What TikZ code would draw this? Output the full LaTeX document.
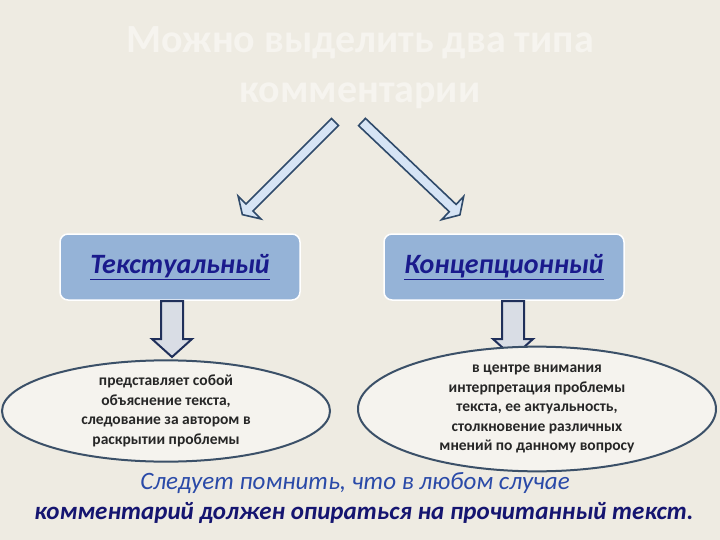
\documentclass[tikz,border=0pt]{standalone}
\usepackage{fontspec}
\setmainfont{Carlito}
\usetikzlibrary{shapes.geometric}
\definecolor{bg}{HTML}{EEEBE2}
\definecolor{boxfill}{HTML}{95B3D7}
\definecolor{navy}{HTML}{1A1A8C}
\definecolor{arrline}{HTML}{2F4A6A}
\definecolor{arrfill}{HTML}{D6E4F5}
\definecolor{downfill}{HTML}{D9DDE5}
\definecolor{downline}{HTML}{1F2F5A}
\definecolor{ellline}{HTML}{3B5068}
\definecolor{bottomblue}{HTML}{2A4AA8}
\tikzset{
  typebox/.style={draw=white,line width=1.5pt,fill=boxfill,rounded corners=8pt,minimum width=240pt,minimum height=66pt,font=\fontsize{28}{32}\selectfont\bfseries\itshape,text=navy},
  oval/.style={ellipse,draw=ellline,line width=2pt,fill=bg!60!white,inner sep=0pt,font=\fontsize{15.5}{19.5}\selectfont\bfseries,text=black!85,align=center},
  diagarrow/.style={draw=arrline,line width=1.6pt,fill=arrfill,line join=miter},
  downarrow/.style={draw=downline,line width=2pt,fill=downfill,line join=miter}
}
\newcommand{\blockarrow}[7]{% x y angle L w H h
  \begin{scope}[shift={(#1,#2)},rotate=#3]
  \path[#7] (0,-#5)--({#4-#6},-#5)--({#4-#6},-#6*1.6)--(#4,0)--({#4-#6},#6*1.6)--({#4-#6},#5)--(0,#5)--cycle;
  \end{scope}}
\begin{document}
\begin{tikzpicture}[x=1pt,y=1pt]
\useasboundingbox (0,0) rectangle (720,-540);
\fill[bg] (0,0) rectangle (720,-540);
\node[font=\fontsize{40}{50}\selectfont\bfseries,text=white!45!bg,align=center] (title) at (360,-68) {Можно выделить два типа\\комментарии};
% diagonal arrows
\blockarrow{335}{-122}{225}{131}{5}{10}{diagarrow}
\blockarrow{362}{-122}{-43.5}{135}{5}{10}{diagarrow}
% boxes
\node[typebox] (t1) at (180,-267) {\underline{Текстуальный}};
\node[typebox] (t2) at (504,-267) {\underline{Концепционный}};
% down arrows
\begin{scope}[shift={(172,-301)},rotate=-90]
\path[downarrow] (0,-11)--(38,-11)--(38,-20)--(56,0)--(38,20)--(38,11)--(0,11)--cycle;
\end{scope}
\begin{scope}[shift={(513,-301)},rotate=-90]
\path[downarrow] (0,-11)--(38,-11)--(38,-20)--(56,0)--(38,20)--(38,11)--(0,11)--cycle;
\end{scope}
% ellipses
\node[oval,minimum width=328pt,minimum height=82pt] (e1) at (166,-411) {представляет собой\\объяснение текста,\\следование за автором в\\раскрытии проблемы};
\node[oval,minimum width=358pt,minimum height=92pt] (e2) at (537,-409) {в центре внимания\\интерпретация проблемы\\текста, ее актуальность,\\столкновение различных\\мнений по данному вопросу};
% bottom text
\node[font=\fontsize{25}{28}\selectfont\itshape,text=bottomblue] (b1) at (355,-483) {Следует помнить, что в любом случае};
\node[font=\fontsize{25}{28}\selectfont\bfseries\itshape,text=navy!80!black] (b2) at (364,-513) {комментарий должен опираться на прочитанный текст.};
\end{tikzpicture}
\end{document}
